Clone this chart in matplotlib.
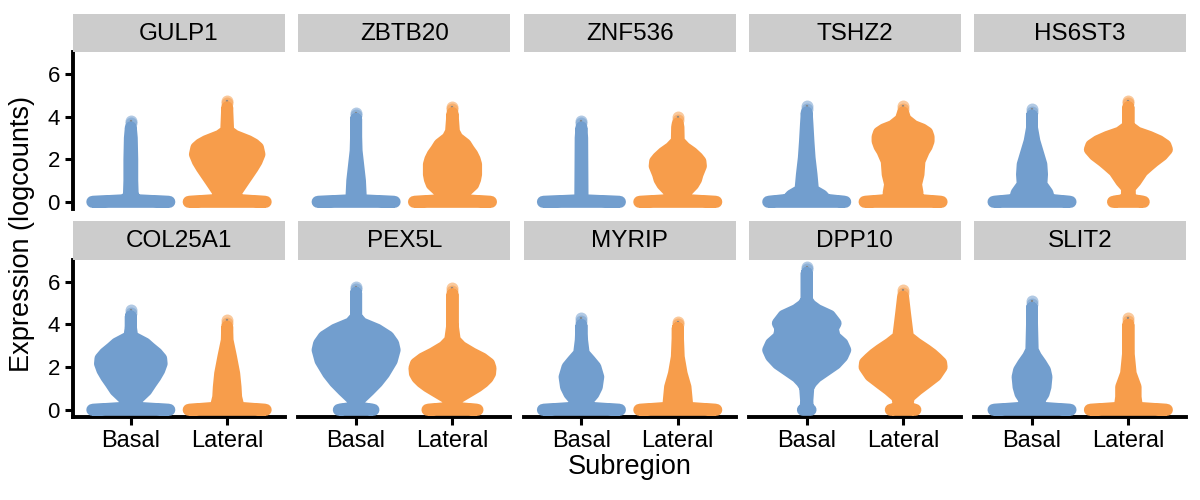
import numpy as np
import matplotlib
matplotlib.use("Agg")
import matplotlib.pyplot as plt

plt.rcParams["font.family"] = ["Liberation Sans", "DejaVu Sans"]

# ---- data (logcounts) ----
genes = ["GULP1", "ZBTB20", "ZNF536", "TSHZ2", "HS6ST3",
         "COL25A1", "PEX5L", "MYRIP", "DPP10", "SLIT2"]
groups = ["Basal", "Lateral"]
colors = ["#729ECE", "#F79D4B"]

# highest observed value per violin
basal_top = [3.8, 4.19, 3.8, 4.5, 4.35, 4.67, 5.77, 4.28, 6.7, 5.07]
lateral_top = [4.74, 4.47, 3.98, 4.5, 4.74, 4.2, 5.7, 4.13, 5.6, 4.28]

# half-width of the violin at zero (x units)
basal_zero = [0.40, 0.40, 0.40, 0.40, 0.40, 0.40, 0.18, 0.40, 0.04, 0.40]
lateral_zero = [0.40, 0.40, 0.40, 0.40, 0.16, 0.40, 0.26, 0.40, 0.128, 0.40]

# violin body above zero: expression levels and half-widths
basal_y = [
    [0.08, 0.3, 1.0, 2.0, 3.0],
    [0.08, 1.0, 1.6, 2.4, 3.2],
    [0.08, 1.5, 3.0],
    [0.1, 0.3, 0.55, 1.29, 2.07, 2.85, 3.64],
    [0.1, 0.42, 0.82, 1.29, 1.76, 2.23, 2.85, 3.48],
    [0.1, 0.44, 0.91, 1.25, 1.54, 1.85, 2.16, 2.4, 2.64, 2.9, 3.1, 3.42, 3.89],
    [0.1, 0.44, 0.91, 1.3, 1.7, 2.3, 2.8, 3.1, 3.42, 3.75, 4.05, 4.36, 5.2],
    [0.1, 0.44, 0.75, 1.07, 1.54, 2.0, 2.3, 2.64, 3.26],
    [0.1, 0.44, 1.07, 1.3, 1.54, 1.85, 2.16, 2.5, 2.8, 3.1, 3.42, 3.8, 4.05, 4.4,
     4.67, 4.9, 5.15, 5.6],
    [0.1, 0.44, 0.75, 1.07, 1.54, 1.85, 2.16, 2.5, 2.8, 4.05],
]
basal_hw = [
    [0.06, 0.02, 0.015, 0.015, 0.01],
    [0.05, 0.04, 0.025, 0.005, 0.0],
    [0.012, 0.01, 0.008],
    [0.2, 0.16, 0.065, 0.05, 0.03, 0.018, 0.008],
    [0.18, 0.16, 0.097, 0.104, 0.097, 0.066, 0.025, 0.0],
    [0.06, 0.05, 0.16, 0.21, 0.255, 0.295, 0.32, 0.315, 0.27, 0.2, 0.15, 0.015, 0.0],
    [0.04, 0.025, 0.135, 0.22, 0.29, 0.37, 0.40, 0.385, 0.335, 0.22, 0.06, 0.0, 0.0],
    [0.08, 0.066, 0.125, 0.16, 0.175, 0.145, 0.09, 0.024, 0.007],
    [0.01, 0.007, 0.017, 0.05, 0.1, 0.2, 0.30, 0.37, 0.40, 0.37, 0.29, 0.27, 0.30,
     0.24, 0.11, 0.04, 0.0, 0.0],
    [0.1, 0.075, 0.12, 0.14, 0.15, 0.135, 0.093, 0.04, 0.007, 0.0],
]
lateral_y = [
    [0.1, 0.5, 0.97, 1.3, 1.6, 1.9, 2.23, 2.54, 2.7, 2.85, 3.1, 3.33],
    [0.1, 0.42, 0.82, 1.05, 1.29, 1.76, 2.0, 2.23, 2.45, 2.7, 3.0, 3.3, 3.9],
    [0.1, 0.42, 0.82, 1.05, 1.29, 1.68, 1.9, 2.07, 2.3, 2.54, 2.85, 3.5],
    [0.1, 0.42, 0.82, 1.29, 1.91, 2.38, 2.6, 2.85, 3.05, 3.25, 3.4, 3.56, 3.87],
    [0.1, 0.35, 0.66, 0.97, 1.44, 1.7, 1.91, 2.2, 2.46, 2.65, 2.85, 3.05, 3.25, 3.56],
    [0.1, 0.6, 1.07, 1.7, 2.48, 3.26],
    [0.1, 0.44, 0.91, 1.1, 1.3, 1.5, 1.7, 1.95, 2.16, 2.4, 2.64, 2.95, 3.26, 4.05],
    [0.1, 0.6, 1.07, 1.7, 2.48, 3.58],
    [0.1, 0.6, 0.95, 1.22, 1.6, 2.0, 2.2, 2.4, 2.6, 2.8, 3.1, 3.42, 4.52],
    [0.1, 0.6, 1.07, 1.7, 2.8],
]
lateral_hw = [
    [0.08, 0.10, 0.17, 0.22, 0.265, 0.305, 0.335, 0.32, 0.28, 0.22, 0.08, 0.01],
    [0.06, 0.12, 0.215, 0.235, 0.245, 0.245, 0.23, 0.205, 0.17, 0.135, 0.05, 0.015,
     0.005],
    [0.04, 0.075, 0.16, 0.19, 0.205, 0.24, 0.235, 0.205, 0.15, 0.075, 0.01, 0.007],
    [0.14, 0.15, 0.135, 0.16, 0.17, 0.215, 0.245, 0.265, 0.265, 0.25, 0.2, 0.11,
     0.024],
    [0.03, 0.015, 0.015, 0.075, 0.145, 0.21, 0.265, 0.35, 0.40, 0.385, 0.32, 0.22,
     0.093, 0.0],
    [0.12, 0.093, 0.087, 0.073, 0.04, 0.004],
    [0.03, 0.015, 0.19, 0.26, 0.32, 0.365, 0.39, 0.395, 0.38, 0.31, 0.205, 0.09,
     0.024, 0.0],
    [0.1, 0.09, 0.08, 0.04, 0.01, 0.0],
    [0.04, 0.06, 0.15, 0.23, 0.34, 0.40, 0.395, 0.35, 0.3, 0.24, 0.14, 0.05, 0.02],
    [0.09, 0.075, 0.075, 0.024, 0.0],
]

tops = [basal_top, lateral_top]
zeros = [basal_zero, lateral_zero]
ys = [basal_y, lateral_y]
hws = [basal_hw, lateral_hw]

# ---- layout (pixels of a 1200x500 canvas) ----
W, H = 1200, 500
lefts = [73, 298.3, 523.6, 748.9, 974.2]
pw = 212
rows = [(52, 209), (259.5, 417)]
strip_h = 38.5
pt_lw = 8.6  # ggplot point diameter in points

fig = plt.figure(figsize=(12, 5), dpi=100)


def draw_violin(ax, xc, y, hw, zero_hw, top, col):
    ty = max(y[-1], top - 0.3)
    right_y = [0.0] + list(y) + [ty]
    right_x = [zero_hw] + list(hw) + [0.0]
    px = [xc + v for v in right_x] + [xc - v for v in right_x[::-1]]
    py = right_y + right_y[::-1]
    # single points near the maximum, lighter
    ax.scatter([xc, xc], [top, top - 0.12], s=pt_lw ** 2, color=col, alpha=0.55,
               lw=0, zorder=2)
    ax.plot([xc, xc], [ty, top], color="#7f7f7f", lw=1.6, alpha=0.8, zorder=3)
    ax.fill(px, py, color=col, lw=pt_lw, ec=col, joinstyle="round", zorder=4)


for i, g in enumerate(genes):
    r, c = divmod(i, 5)
    top_px, bot_px = rows[r]
    ax = fig.add_axes([lefts[c] / W, 1 - bot_px / H, pw / W, (bot_px - top_px) / H])
    for k in range(2):
        draw_violin(ax, k + 1, ys[k][i], hws[k][i], zeros[k][i], tops[k][i], colors[k])
    ax.set_xlim(0.4, 2.6)
    ax.set_ylim(-0.335, 7.035)
    for s in ax.spines.values():
        s.set_visible(False)
    ax.tick_params(axis="both", length=5.5, width=2.2, color="black", labelsize=16,
                   pad=4)
    if c == 0:
        ax.spines["left"].set_visible(True)
        ax.spines["left"].set_linewidth(2.8)
        ax.set_yticks([0, 2, 4, 6])
    else:
        ax.set_yticks([])
    if r == 1:
        ax.spines["bottom"].set_visible(True)
        ax.spines["bottom"].set_linewidth(2.8)
        ax.set_xticks([1, 2])
        ax.set_xticklabels(groups, fontsize=17)
    else:
        ax.set_xticks([])
    ax.patch.set_alpha(0)

    # facet strip
    sax = fig.add_axes([lefts[c] / W, 1 - top_px / H, pw / W, strip_h / H])
    sax.set_facecolor("#CCCCCC")
    sax.set_xticks([])
    sax.set_yticks([])
    for s in sax.spines.values():
        s.set_visible(False)
    sax.text(0.5, 0.47, g, ha="center", va="center", fontsize=17.5,
             transform=sax.transAxes)

fig.text(630 / W, 1 - 467 / H, "Subregion", ha="center", va="center", fontsize=19.5)
fig.text(22 / W, 1 - 234 / H, "Expression (logcounts)", ha="center", va="center",
         rotation=90, fontsize=19.5)

fig.savefig("out.png", dpi=100)
